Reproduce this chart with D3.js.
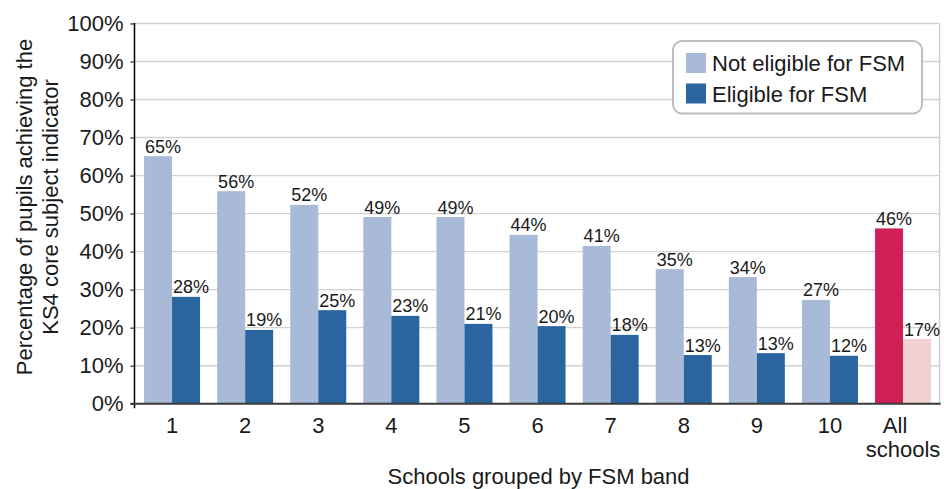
<!DOCTYPE html>
<html>
<head>
<meta charset="utf-8">
<script src="https://cdn.jsdelivr.net/npm/d3@7"></script>
<style>
  html, body { margin: 0; padding: 0; background: #fff; }
  svg { display: block; font-family: "Liberation Sans", Arial, sans-serif; }
</style>
</head>
<body>
<svg id="chart" width="944" height="489"></svg>
<script>
// ---- Data ----
const categories = ["1", "2", "3", "4", "5", "6", "7", "8", "9", "10", "All schools"];
const notEligible = [65.1, 55.9, 52.3, 49.1, 49.1, 44.4, 41.5, 35.4, 33.3, 27.3, 46.1];
const eligible    = [28.1, 19.4, 24.6, 23.1, 21.0, 20.4, 18.1, 12.8, 13.3, 12.6, 17.0];
const notEligibleLabels = ["65%", "56%", "52%", "49%", "49%", "44%", "41%", "35%", "34%", "27%", "46%"];
const eligibleLabels    = ["28%", "19%", "25%", "23%", "21%", "20%", "18%", "13%", "13%", "12%", "17%"];
const seriesNames = ["Not eligible for FSM", "Eligible for FSM"];
const yTicks = [0, 10, 20, 30, 40, 50, 60, 70, 80, 90, 100];
const yTitleLines = ["Percentage of pupils achieving the", "KS4 core subject indicator"];
const xTitle = "Schools grouped by FSM band";

// ---- Styles ----
const colors = { not: "#A9B9D8", elig: "#2A659F", allNot: "#CE2055", allElig: "#F2D1D1" };

const svg = d3.select("#chart");
const plot = { left: 135.5, right: 939.6, top: 23.5, bottom: 403.7 };

const y = d3.scaleLinear().domain([0, 100]).range([plot.bottom, plot.top]);
const x0 = d3.scaleBand().domain(categories).range([plot.left, plot.right])
  .paddingInner(0.234).paddingOuter(0.117);
const x1 = d3.scaleBand().domain(seriesNames).range([0, x0.bandwidth()]).padding(0);

// gridlines
svg.append("g").selectAll("line").data(yTicks.filter(d => d > 0)).join("line")
  .attr("x1", plot.left - 1).attr("x2", plot.right)
  .attr("y1", d => y(d)).attr("y2", d => y(d))
  .attr("stroke", "#d2d2d2").attr("stroke-width", 1.4);

// right border
svg.append("line")
  .attr("x1", plot.right).attr("x2", plot.right)
  .attr("y1", y(100)).attr("y2", y(0))
  .attr("stroke", "#cfcfcf").attr("stroke-width", 1.4);

// data table
const rows = categories.map((c, i) => ({
  cat: c, i,
  vals: [
    { s: seriesNames[0], v: notEligible[i], lab: notEligibleLabels[i],
      color: c === "All schools" ? colors.allNot : colors.not },
    { s: seriesNames[1], v: eligible[i], lab: eligibleLabels[i],
      color: c === "All schools" ? colors.allElig : colors.elig }
  ]
}));

const groups = svg.append("g").selectAll("g").data(rows).join("g")
  .attr("transform", d => `translate(${x0(d.cat)},0)`);

groups.selectAll("rect").data(d => d.vals).join("rect")
  .attr("x", d => x1(d.s)).attr("width", x1.bandwidth())
  .attr("y", d => y(d.v)).attr("height", d => y(0) - y(d.v))
  .attr("fill", d => d.color);

groups.selectAll("text").data(d => d.vals).join("text")
  .attr("x", d => x1(d.s) + x1.bandwidth() / 2 + 5)
  .attr("y", d => y(d.v) - 3.5)
  .attr("text-anchor", "middle")
  .attr("font-size", 18).attr("fill", "#1a1a1a")
  .text(d => d.lab);

// y axis
const yAxis = d3.axisLeft(y).tickValues(yTicks).tickFormat(d => d + "%").tickSize(4).tickPadding(7);
const gy = svg.append("g").attr("transform", `translate(${plot.left - 1},0)`).call(yAxis);
gy.select(".domain").remove();
gy.append("line").attr("x1", 0).attr("x2", 0).attr("y1", y(100) - 0.5).attr("y2", y(0) + 4.5)
  .attr("stroke", "#000").attr("stroke-width", 1.5);
gy.selectAll(".tick line").attr("stroke", "#333").attr("stroke-width", 1.3);
gy.selectAll(".tick text").attr("font-size", 22).attr("fill", "#1a1a1a")
  .attr("font-family", "'Liberation Sans', Arial, sans-serif");

// x axis baseline
svg.append("line")
  .attr("x1", plot.left - 5).attr("x2", plot.right + 1)
  .attr("y1", y(0)).attr("y2", y(0))
  .attr("stroke", "#3a3a3a").attr("stroke-width", 2);

// x tick labels
const xAxis = d3.axisBottom(x0).tickSize(0).tickPadding(0);
const gx = svg.append("g").attr("transform", `translate(0,${y(0)})`).call(xAxis);
gx.select(".domain").remove();
gx.selectAll(".tick text").each(function(d) {
  const t = d3.select(this);
  t.text(null).attr("font-size", 22).attr("fill", "#1a1a1a")
    .attr("font-family", "'Liberation Sans', Arial, sans-serif").attr("dy", null).attr("y", 0);
  const parts = d.split(" ");
  parts.forEach((p, k) => {
    t.append("tspan").attr("x", parts.length > 1 && k === 0 ? -8 : 0)
      .attr("y", 29 + k * 24).text(p);
  });
});

// y title
const yt = svg.append("text").attr("transform", "rotate(-90)")
  .attr("text-anchor", "middle").attr("font-size", 22).attr("fill", "#1a1a1a");
yTitleLines.forEach((l, k) => {
  yt.append("tspan").attr("x", -207).attr("y", 32.3 + k * 26).text(l);
});

// x title
svg.append("text").attr("x", (plot.left + plot.right) / 2 + 1).attr("y", 484)
  .attr("text-anchor", "middle").attr("font-size", 22).attr("fill", "#1a1a1a")
  .text(xTitle);

// legend
const lg = svg.append("g").attr("transform", "translate(673,41)");
lg.append("rect").attr("x", 0).attr("y", 0).attr("width", 249).attr("height", 72.5)
  .attr("rx", 9).attr("fill", "#fff").attr("stroke", "#bdbdbd").attr("stroke-width", 2);
const legendColors = [colors.not, colors.elig];
seriesNames.forEach((s, k) => {
  lg.append("rect").attr("x", 13).attr("y", 12 + k * 30.5).attr("width", 20).attr("height", 20)
    .attr("fill", legendColors[k]);
  lg.append("text").attr("x", 39).attr("y", 30 + k * 30.5).attr("font-size", 22)
    .attr("fill", "#1a1a1a").text(s);
});
</script>
</body>
</html>
